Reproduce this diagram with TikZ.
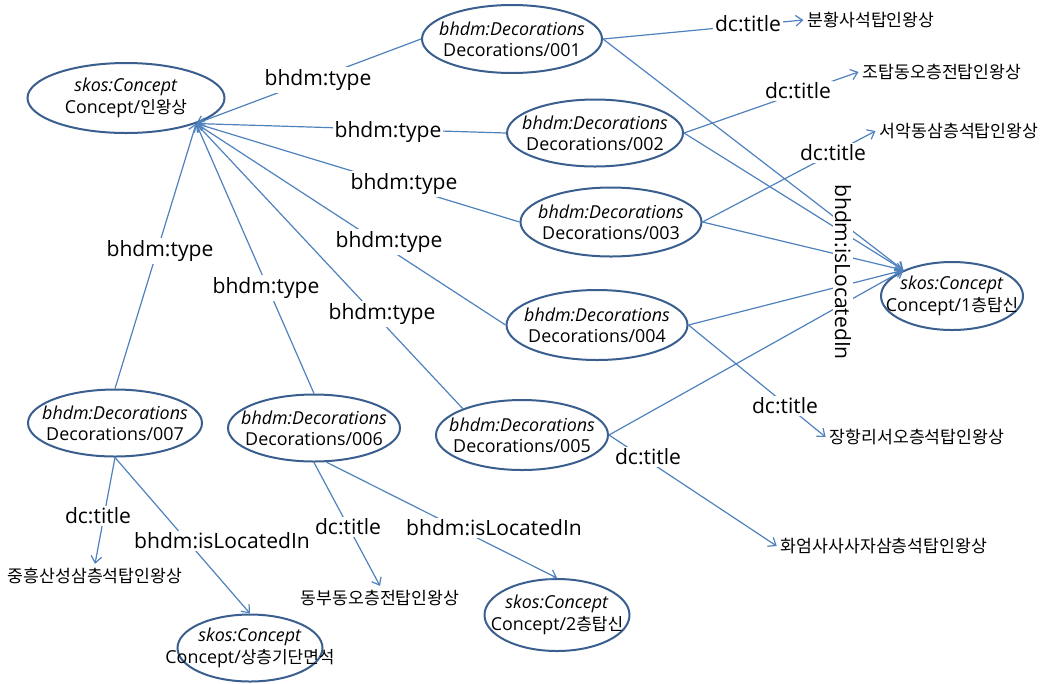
\documentclass[tikz,border=0pt]{standalone}
\usepackage{fontspec}
\setmainfont{Open Sans}
\newfontfamily\kr{Noto Sans CJK KR}[Scale=0.95]
\usetikzlibrary{arrows.meta,shapes.geometric}
\definecolor{ln}{HTML}{4F81BD}
\definecolor{eb}{HTML}{3A5F8F}
\begin{document}
\begin{tikzpicture}[x=0.75pt,y=-0.75pt,
  ell/.style={ellipse,draw=eb,line width=1.5pt,fill=white,inner xsep=-40pt,inner ysep=-20pt,align=center,font=\fontsize{13.4}{16}\selectfont},
  rel/.style={draw=ln,line width=0.9pt,-{Straight Barb[length=5pt,width=8pt]}},
  lbl/.style={fill=white,inner sep=1.5pt,font=\fontsize{15.8}{18}\selectfont},
  ttl/.style={inner sep=3pt,font=\fontsize{13.6}{16}\selectfont\kr}]
\useasboundingbox (0,0) rectangle (1041,683);

% resources
\node[ell,minimum width=147.75pt,minimum height=52.5pt] (Cin) at (126,98) {\textit{skos:Concept}\\Concept/{\kr 인왕상}};
\node[ell,minimum width=135pt,minimum height=51pt] (D001) at (512,39) {\textit{bhdm:Decorations}\\Decorations/001};
\node[ell,minimum width=132pt,minimum height=50.25pt] (D002) at (595,133) {\textit{bhdm:Decorations}\\Decorations/002};
\node[ell,minimum width=135.75pt,minimum height=51.75pt] (D003) at (611,222) {\textit{bhdm:Decorations}\\Decorations/003};
\node[ell,minimum width=135.75pt,minimum height=52.5pt] (D004) at (597,325) {\textit{bhdm:Decorations}\\Decorations/004};
\node[ell,minimum width=129pt,minimum height=52.5pt] (D005) at (522,435) {\textit{bhdm:Decorations}\\Decorations/005};
\node[ell,minimum width=129pt,minimum height=50.25pt] (D006) at (314,428) {\textit{bhdm:Decorations}\\Decorations/006};
\node[ell,minimum width=130.5pt,minimum height=50.25pt] (D007) at (115,423) {\textit{bhdm:Decorations}\\Decorations/007};
\node[ell,minimum width=106.5pt,minimum height=51pt] (C1) at (952,296) {\textit{skos:Concept}\\Concept/1{\kr 층탑신}};
\node[ell,minimum width=108.75pt,minimum height=54pt] (C2) at (557,615) {\textit{skos:Concept}\\Concept/2{\kr 층탑신}};
\node[ell,minimum width=108.75pt,minimum height=50.25pt] (C3) at (250,648) {\textit{skos:Concept}\\Concept/{\kr 상층기단면석}};

% literal titles
\node[ttl] (T1) at (871,20) {분황사석탑인왕상};
\node[ttl] (T2) at (942,72) {조탑동오층전탑인왕상};
\node[ttl] (T3) at (959,131) {서악동삼층석탑인왕상};
\node[ttl] (T4) at (917,437) {장항리서오층석탑인왕상};
\node[ttl] (T5) at (884,546) {화엄사사사자삼층석탑인왕상};
\node[ttl] (T6) at (380,598) {동부동오층전탑인왕상};
\node[ttl] (T7) at (95,576) {중흥산성삼층석탑인왕상};

% bhdm:type
\draw[rel] (D001.west) -- (Cin.-20);
\draw[rel] (D002.west) -- (Cin.-20);
\draw[rel] (D003.west) -- (Cin.-20);
\draw[rel] (D004.west) -- (Cin.-20);
\draw[rel] (D005.156) -- (Cin.-20);
\draw[rel] (D006.north) -- (Cin.-20);
\draw[rel] (D007.north) -- (Cin.-20);

% dc:title and bhdm:isLocatedIn
\draw[rel] (D001.east) -- (T1.west);
\draw[rel] (D001.east) -- (C1.152);
\draw[rel] (D002.east) -- (T2.west);
\draw[rel] (D002.east) -- (C1.152);
\draw[rel] (D003.east) -- (T3.west);
\draw[rel] (D003.east) -- (C1.152);
\draw[rel] (D004.east) -- (C1.152);
\draw[rel] (D004.east) -- (T4.west);
\draw[rel] (D005.east) -- (C1.152);
\draw[rel] (D005.east) -- (T5.west);
\draw[rel] (D006.south) -- (T6.north);
\draw[rel] (D006.-70) -- (C2.north);
\draw[rel] (D007.south) -- (T7.north);
\draw[rel] (D007.south) -- (C3.north);

% edge labels
\node[lbl] (t1) at (318,80) {bhdm:type};
\node[lbl] (t2) at (388,132) {bhdm:type};
\node[lbl] (t3) at (404,184) {bhdm:type};
\node[lbl] (t4) at (389,242) {bhdm:type};
\node[lbl] (t5) at (382,314) {bhdm:type};
\node[lbl] (t6) at (266,288) {bhdm:type};
\node[lbl] (t7) at (160,251) {bhdm:type};
\node[lbl] (d1) at (748,24) {dc:title};
\node[lbl] (d2) at (798,91) {dc:title};
\node[lbl] (d3) at (833,153) {dc:title};
\node[lbl] (d4) at (785,406) {dc:title};
\node[lbl] (d5) at (648,457) {dc:title};
\node[lbl] (d6) at (348,527) {dc:title};
\node[lbl] (d7) at (98,516) {dc:title};
\node[lbl] (i6) at (494,528) {bhdm:isLocatedIn};
\node[lbl] (i7) at (222,541) {bhdm:isLocatedIn};
\node[lbl,rotate=-90] (iv) at (843,272) {bhdm:isLocatedIn};
\end{tikzpicture}
\end{document}
